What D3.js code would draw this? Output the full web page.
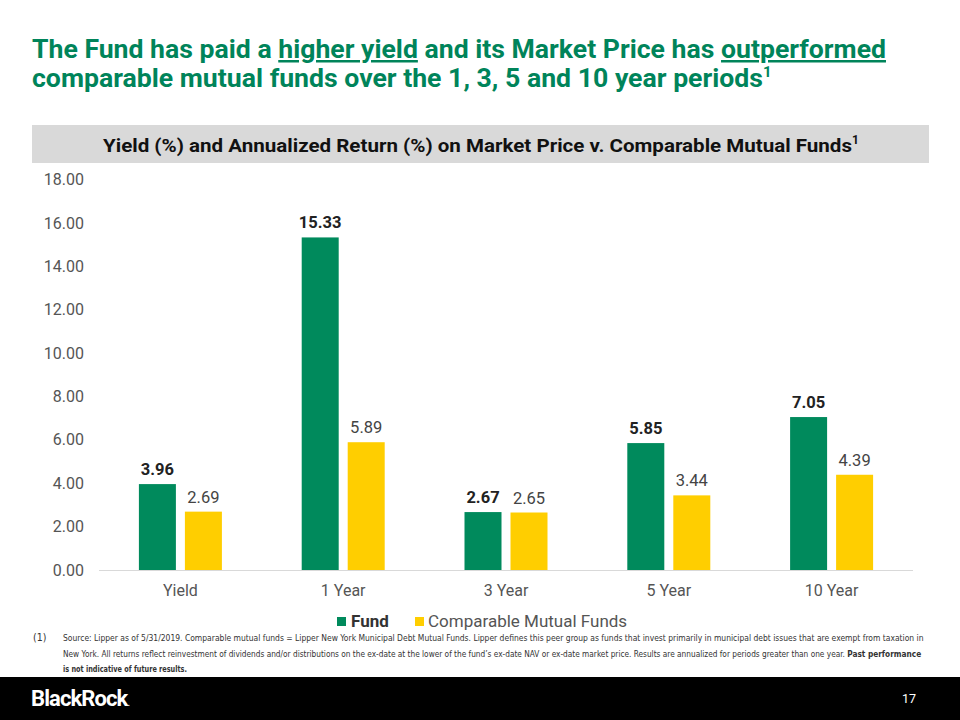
<!DOCTYPE html>
<html><head><meta charset="utf-8">
<script src="https://cdn.jsdelivr.net/npm/d3@7"></script>
<style>body{margin:0;background:#fff}svg{display:block}</style>
</head><body>
<script>
const categories = ["Yield", "1 Year", "3 Year", "5 Year", "10 Year"];
const fundValues = [3.96, 15.33, 2.67, 5.85, 7.05];
const comparableValues = [2.69, 5.89, 2.65, 3.44, 4.39];
const seriesNames = ["Fund", "Comparable Mutual Funds"];
const yTicks = [0, 2, 4, 6, 8, 10, 12, 14, 16, 18];

const W = 960, H = 720;
const GREEN = "#008A5C", YELLOW = "#FFCE00";
const svg = d3.select("body").append("svg").attr("width", W).attr("height", H);
const font = "Roboto, 'Open Sans', sans-serif";

function fitWidth(sel, target) {
  const w = sel.node().getComputedTextLength();
  const fs = parseFloat(sel.attr("font-size"));
  sel.attr("font-size", fs * target / w);
}

// Title
const title = svg.append("g").attr("font-family", font).attr("font-weight", 700).attr("fill", "#00845A");
const t1 = title.append("text").attr("x", 32).attr("y", 58).attr("font-size", 25);
t1.append("tspan").text("The Fund has paid a ");
t1.append("tspan").attr("text-decoration", "underline").text("higher yield");
t1.append("tspan").text(" and its Market Price has ");
t1.append("tspan").attr("text-decoration", "underline").text("outperformed");
t1.attr("textLength", 854).attr("lengthAdjust", "spacingAndGlyphs");
const t2 = title.append("text").attr("x", 32).attr("y", 87).attr("font-size", 25);
t2.append("tspan").attr("textLength", 731).attr("lengthAdjust", "spacingAndGlyphs").text("comparable mutual funds over the 1, 3, 5 and 10 year periods");
t2.append("tspan").attr("font-size", 15).attr("dy", -10).text("1");

// Gray header
svg.append("rect").attr("x", 32).attr("y", 125).attr("width", 897).attr("height", 38).attr("fill", "#D9D9D9");
const h = svg.append("text").attr("x", 103).attr("y", 152)
  .attr("font-family", font).attr("font-weight", 700).attr("font-size", 19).attr("fill", "#111");
h.append("tspan").attr("textLength", 749).attr("lengthAdjust", "spacingAndGlyphs")
  .text("Yield (%) and Annualized Return (%) on Market Price v. Comparable Mutual Funds");
h.append("tspan").attr("font-size", 12).attr("dy", -8).text("1");

// Chart
const x0 = d3.scaleBand().domain(categories).range([99, 913]).paddingInner(0).paddingOuter(0);
const y = d3.scaleLinear().domain([0, 18]).range([570, 179.5]);
const barW = 37, gap = 9;

// y axis labels
const yAxis = d3.axisLeft(y).tickValues(yTicks).tickFormat(d3.format(".2f")).tickSize(0).tickPadding(0);
const yg = svg.append("g").attr("transform", "translate(84,0)").call(yAxis);
yg.select(".domain").remove();
yg.selectAll("text").attr("font-family", font).attr("font-size", 16).attr("fill", "#555");

// baseline
svg.append("line").attr("x1", 99).attr("x2", 913).attr("y1", 570.5).attr("y2", 570.5).attr("stroke", "#D9D9D9").attr("stroke-width", 1);

const data = categories.map((c, i) => ({c, v: [fundValues[i], comparableValues[i]]}));
const colors = [GREEN, YELLOW];
data.forEach(d => {
  const cx = x0(d.c) + x0.bandwidth() / 2;
  d.v.forEach((v, j) => {
    const bx = cx + (j === 0 ? -(barW + gap / 2) : gap / 2);
    svg.append("rect").attr("x", bx).attr("y", y(v)).attr("width", barW).attr("height", y(0) - y(v)).attr("fill", colors[j]);
    svg.append("text").attr("x", bx + barW / 2).attr("y", y(v) - 9).attr("text-anchor", "middle")
      .attr("font-family", font).attr("font-size", 16.5).attr("font-weight", j === 0 ? 700 : 400)
      .attr("fill", j === 0 ? "#222" : "#444").text(v.toFixed(2));
  });
});

// x axis
const xAxis = d3.axisBottom(x0).tickSize(0).tickPadding(0);
const xg = svg.append("g").attr("transform", "translate(0,596)").call(xAxis);
xg.select(".domain").remove();
xg.selectAll("text").attr("dy", 0).attr("font-family", font).attr("font-size", 16).attr("fill", "#555");

// Legend
const lg = svg.append("g").attr("font-family", font).attr("font-size", 17);
lg.append("rect").attr("x", 337).attr("y", 617).attr("width", 9).attr("height", 9).attr("fill", GREEN);
lg.append("text").attr("x", 351).attr("y", 627).attr("font-weight", 700).attr("fill", "#333").text(seriesNames[0]);
lg.append("rect").attr("x", 415).attr("y", 617).attr("width", 9).attr("height", 9).attr("fill", YELLOW);
lg.append("text").attr("x", 428).attr("y", 627).attr("fill", "#555").text(seriesNames[1]);

// Footnote
const fnFont = "'Liberation Sans Narrow', 'DejaVu Sans Condensed', sans-serif";
const fn = svg.append("g").attr("font-family", fnFont).attr("fill", "#333");
fn.append("text").attr("x", 33).attr("y", 641).attr("font-size", 10.5).text("(1)");
const f1 = fn.append("text").attr("x", 63).attr("y", 641).attr("font-size", 10)
  .text("Source: Lipper as of 5/31/2019.  Comparable mutual funds = Lipper New York Municipal Debt Mutual Funds.  Lipper defines this peer group as funds that invest primarily in municipal debt issues that are exempt from taxation in");
fitWidth(f1, 862);
const f2 = fn.append("text").attr("x", 63).attr("y", 657).attr("font-size", 10);
f2.append("tspan").text("New York.  All returns reflect reinvestment of dividends and/or distributions on the ex-date at the lower of the fund’s ex-date NAV or ex-date market price.  Results are annualized for periods greater than one year. ");
f2.append("tspan").attr("font-weight", 700).text("Past performance");
fitWidth(f2, 860);
const f3 = fn.append("text").attr("x", 63).attr("y", 672).attr("font-weight", 700).attr("font-size", f2.attr("font-size")).text("is not indicative of future results.");
f3.attr("textLength", 124).attr("lengthAdjust", "spacingAndGlyphs");

// Footer
svg.append("rect").attr("x", 0).attr("y", 677).attr("width", W).attr("height", 43).attr("fill", "#000");
const logo = svg.append("text").attr("x", 31).attr("y", 706).attr("font-family", font).attr("font-weight", 700)
  .attr("font-size", 22).attr("fill", "#fff").attr("letter-spacing", -0.9);
logo.append("tspan").text("BlackRock");
logo.append("tspan").attr("font-weight", 400).attr("font-size", 10).text(".");
svg.append("text").attr("x", 916).attr("y", 703).attr("text-anchor", "end").attr("font-family", font)
  .attr("font-size", 12.5).attr("fill", "#fff").text("17");
</script>
</body></html>
